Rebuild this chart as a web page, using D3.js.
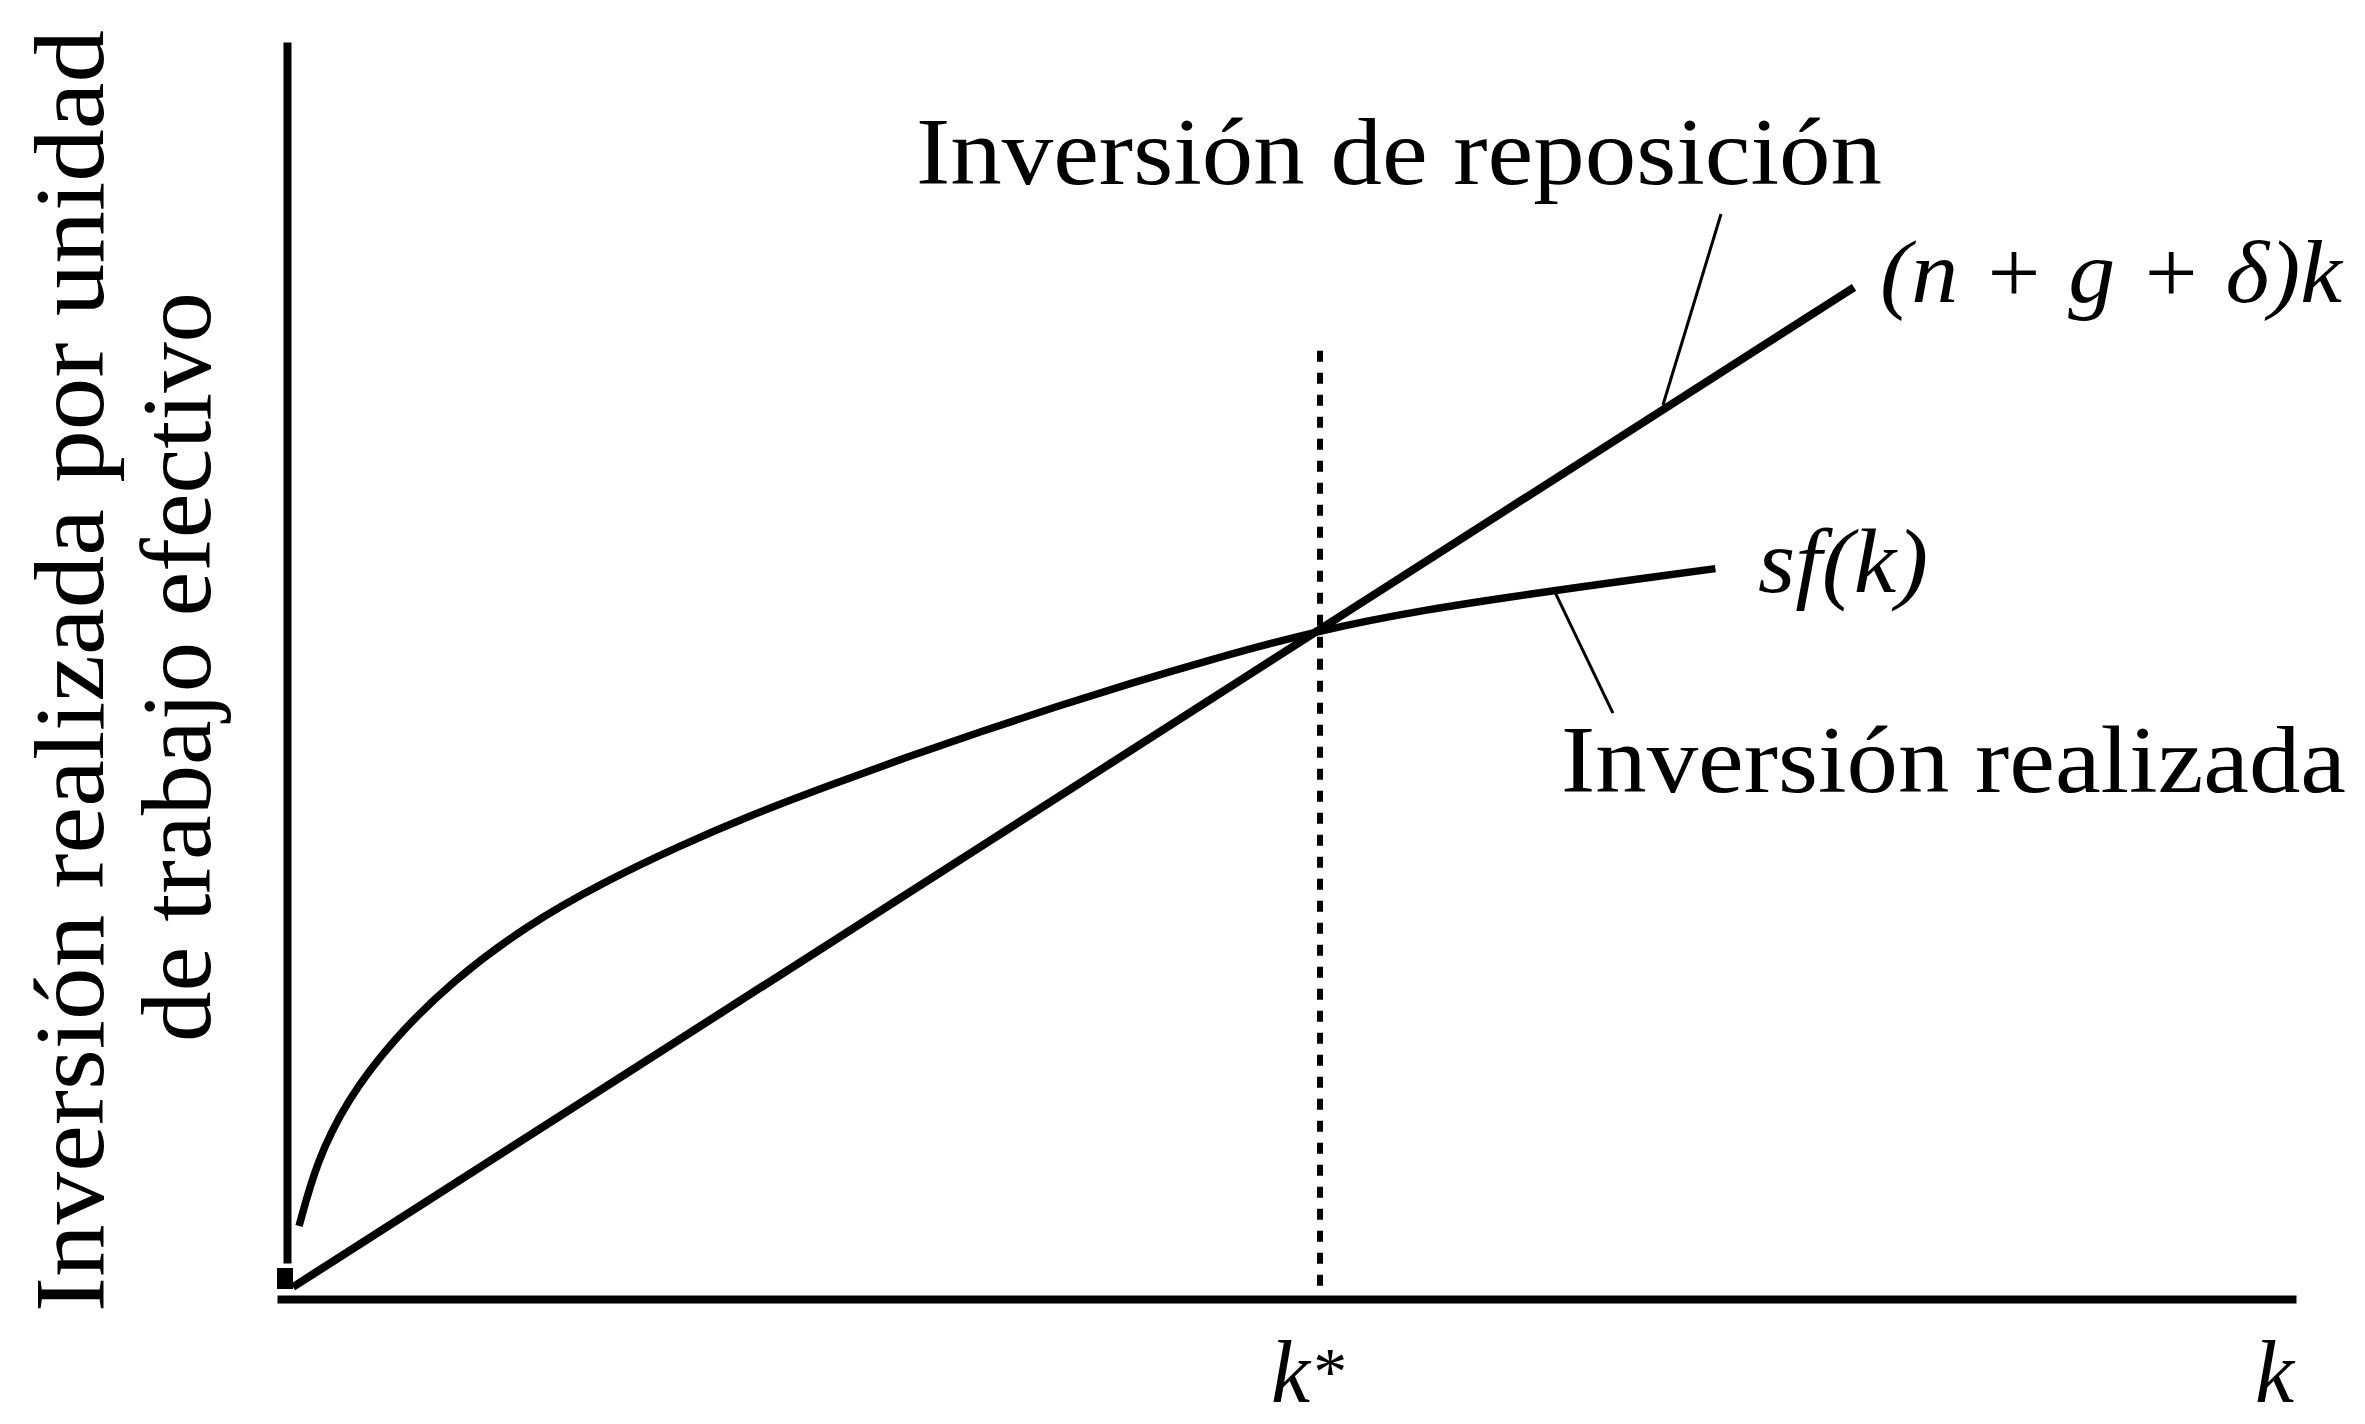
<!DOCTYPE html>
<html>
<head>
<meta charset="utf-8">
<script src="https://cdn.jsdelivr.net/npm/d3@7"></script>
<style>
  body { margin: 0; background: #fff; }
  text { font-family: "Liberation Serif", "DejaVu Serif", serif; fill: #000; }
</style>
</head>
<body>
<div id="chart"></div>
<script>
// datos (k en eje x, inversion en eje y)
const sfK = [0.06, 0.148, 0.298, 0.523, 0.823, 1.198, 1.574, 1.949, 2.324, 2.70, 3.075, 3.45, 3.826, 4.201, 4.577, 5.142, 5.703, 6.078, 6.378, 6.829, 7.11];
const sfV = [0.49, 1.01, 1.50, 1.98, 2.46, 2.91, 3.25, 3.54, 3.80, 4.03, 4.25, 4.46, 4.66, 4.85, 5.03, 5.28, 5.45, 5.54, 5.61, 5.71, 5.77];
const repK = [0.03, 7.80];
const repV = [0, 8.03];
const kStar = 5.142;
const kStarTop = 7.52;
const leaderRep = [[7.138, 8.618], [6.849, 7.084]];
const leaderReal = [[6.312, 5.58], [6.600, 4.610]];

const W = 2365, H = 1424;

const svg = d3.select("#chart")
    .append("svg")
    .attr("width", W)
    .attr("height", H);

const x = d3.scaleLinear().domain([0, 10]).range([287, 2296]);
const y = d3.scaleLinear().domain([0, 10]).range([1287, 42]);

// ejes sin marcas
const xAxisScale = d3.scaleLinear().domain([0, 1]).range([277, 2296]);
const yAxisScale = d3.scaleLinear().domain([0, 1]).range([1263, 42]);

svg.append("g")
    .attr("transform", "translate(0,1299)")
    .call(d3.axisBottom(xAxisScale).ticks(0).tickSizeOuter(0))
    .select(".domain")
    .attr("stroke", "#000")
    .attr("stroke-width", 8);

svg.append("g")
    .attr("transform", "translate(287,0)")
    .call(d3.axisLeft(yAxisScale).ticks(0).tickSizeOuter(0))
    .select(".domain")
    .attr("stroke", "#000")
    .attr("stroke-width", 8);

// pequeño cuadrado en el origen
svg.append("rect")
    .attr("x", x(0) - 10)
    .attr("y", y(0) - 19)
    .attr("width", 16)
    .attr("height", 21)
    .attr("fill", "#000");

// linea punteada en k*
svg.append("line")
    .attr("x1", x(kStar)).attr("x2", x(kStar))
    .attr("y1", y(kStarTop)).attr("y2", 1295)
    .attr("stroke", "#000")
    .attr("stroke-width", 6)
    .attr("stroke-dasharray", "11 11");

// (n + g + δ)k
const line = d3.line().x(d => x(d[0])).y(d => y(d[1]));
svg.append("path")
    .datum(repK.map((k, i) => [k, repV[i]]))
    .attr("d", line)
    .attr("fill", "none")
    .attr("stroke", "#000")
    .attr("stroke-width", 8);

// sf(k)
const sfData = sfK.map((k, i) => [k, sfV[i]]);
const curve = d3.line().x(d => x(d[0])).y(d => y(d[1])).curve(d3.curveBasis);
svg.append("path")
    .datum(sfData)
    .attr("d", curve)
    .attr("fill", "none")
    .attr("stroke", "#000")
    .attr("stroke-width", 7.5);

// lineas guia de las etiquetas
[leaderRep, leaderReal].forEach(l => {
    svg.append("path")
        .datum(l)
        .attr("d", line)
        .attr("fill", "none")
        .attr("stroke", "#000")
        .attr("stroke-width", 3);
});

// textos
svg.append("text")
    .attr("x", 916).attr("y", 184)
    .attr("font-size", 96)
    .attr("textLength", 966)
    .attr("lengthAdjust", "spacingAndGlyphs")
    .text("Inversión de reposición");

svg.append("text")
    .attr("x", 1880).attr("y", 302)
    .attr("font-size", 88)
    .attr("font-style", "italic")
    .attr("textLength", 462)
    .attr("lengthAdjust", "spacingAndGlyphs")
    .text("(n + g + δ)k");

svg.append("text")
    .attr("x", 1758).attr("y", 592)
    .attr("font-size", 90)
    .attr("font-style", "italic")
    .attr("textLength", 170)
    .attr("lengthAdjust", "spacingAndGlyphs")
    .text("sf(k)");

svg.append("text")
    .attr("x", 1561).attr("y", 792)
    .attr("font-size", 96)
    .attr("textLength", 785)
    .attr("lengthAdjust", "spacingAndGlyphs")
    .text("Inversión realizada");

const kst = svg.append("text")
    .attr("x", 1271).attr("y", 1402)
    .attr("font-size", 88)
    .attr("font-style", "italic");
kst.append("tspan").text("k");
kst.append("tspan").attr("font-size", 68).attr("dy", -8).text("*");

svg.append("text")
    .attr("x", 2255).attr("y", 1402)
    .attr("font-size", 88)
    .attr("font-style", "italic")
    .text("k");

// titulo del eje y
svg.append("text")
    .attr("transform", "translate(103,671) rotate(-90)")
    .attr("text-anchor", "middle")
    .attr("font-size", 100)
    .attr("textLength", 1282)
    .attr("lengthAdjust", "spacingAndGlyphs")
    .text("Inversión realizada por unidad");

svg.append("text")
    .attr("transform", "translate(210,667) rotate(-90)")
    .attr("text-anchor", "middle")
    .attr("font-size", 100)
    .attr("textLength", 750)
    .attr("lengthAdjust", "spacingAndGlyphs")
    .text("de trabajo efectivo");
</script>
</body>
</html>
